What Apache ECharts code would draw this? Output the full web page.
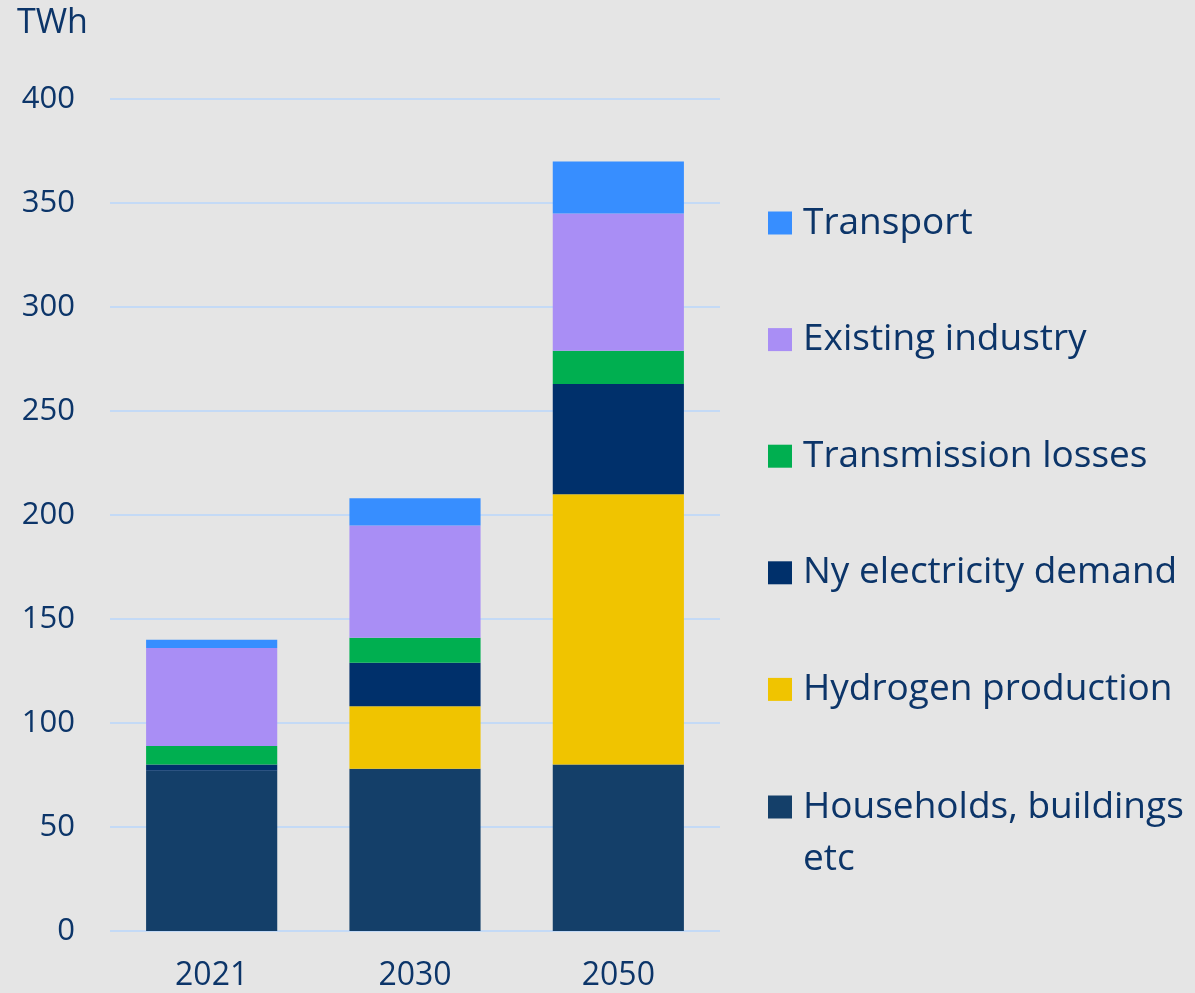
<!DOCTYPE html>
<html lang="en">
	<head>
		<meta charset="UTF-8" />
		<title>Electricity demand</title>
		<script src="https://cdn.jsdelivr.net/npm/echarts@6/dist/echarts.min.js"></script>
		<style>
			html, body { margin: 0; padding: 0; background: #e5e5e5; }
			#chart { width: 1195px; height: 993px; }
		</style>
	</head>
	<body>
		<div id="chart"></div>
		<script>
			const years = ['2021', '2030', '2050']
			const households = [77, 78, 80]
			const hydrogen = [0, 30, 130]
			const nyDemand = [3, 21, 53]
			const losses = [9, 12, 16]
			const industry = [47, 54, 66]
			const transport = [4, 13, 25]

			const txt = '#0c3569'
			const font = 'Open Sans'
			const chart = echarts.init(document.getElementById('chart'))

			function bar(name, data, color) {
				return {
					name: name,
					type: 'bar',
					stack: 'total',
					barWidth: '64.5%',
					data: data,
					itemStyle: { color: color },
					emphasis: { disabled: true }
				}
			}

			const legendText = { color: txt, fontFamily: font, fontSize: 37, lineHeight: 52, padding: [0, 0, 0, 6] }

			const option = {
				backgroundColor: '#e5e5e5',
				animation: false,
				title: {
					text: 'TWh',
					left: 17,
					top: 6,
					padding: 0,
					textStyle: { color: txt, fontFamily: font, fontSize: 34, fontWeight: 'normal' }
				},
				grid: { left: 110, right: 475, top: 99, bottom: 62 },
				legend: [
					{
						orient: 'vertical',
						left: 768,
						top: 197,
						padding: 0,
						itemWidth: 24,
						itemHeight: 23,
						itemGap: 64.6,
						icon: 'rect',
						data: ['Transport', 'Existing industry', 'Transmission losses', 'Ny electricity demand', 'Hydrogen production'],
						textStyle: legendText
					},
					{
						orient: 'vertical',
						left: 768,
						top: 729,
						padding: 0,
						itemWidth: 24,
						itemHeight: 23,
						icon: 'rect',
						data: ['Households, buildings etc'],
						formatter: function () { return '\nHouseholds, buildings\netc' },
						textStyle: legendText
					}
				],
				xAxis: {
					type: 'category',
					data: years,
					axisLine: { show: false },
					axisTick: { show: false },
					axisLabel: { color: txt, fontFamily: font, fontSize: 32, margin: 29 }
				},
				yAxis: {
					type: 'value',
					min: 0,
					max: 400,
					interval: 50,
					axisLabel: { color: txt, fontFamily: font, fontSize: 31, margin: 35 },
					splitLine: { lineStyle: { color: '#c4daf6', width: 2 } }
				},
				series: [
					bar('Households, buildings etc', households, '#143f69'),
					bar('Hydrogen production', hydrogen, '#f0c400'),
					bar('Ny electricity demand', nyDemand, '#00306b'),
					bar('Transmission losses', losses, '#00af50'),
					bar('Existing industry', industry, '#a98ef5'),
					bar('Transport', transport, '#378eff')
				]
			}
			chart.setOption(option)
		</script>
	</body>
</html>
